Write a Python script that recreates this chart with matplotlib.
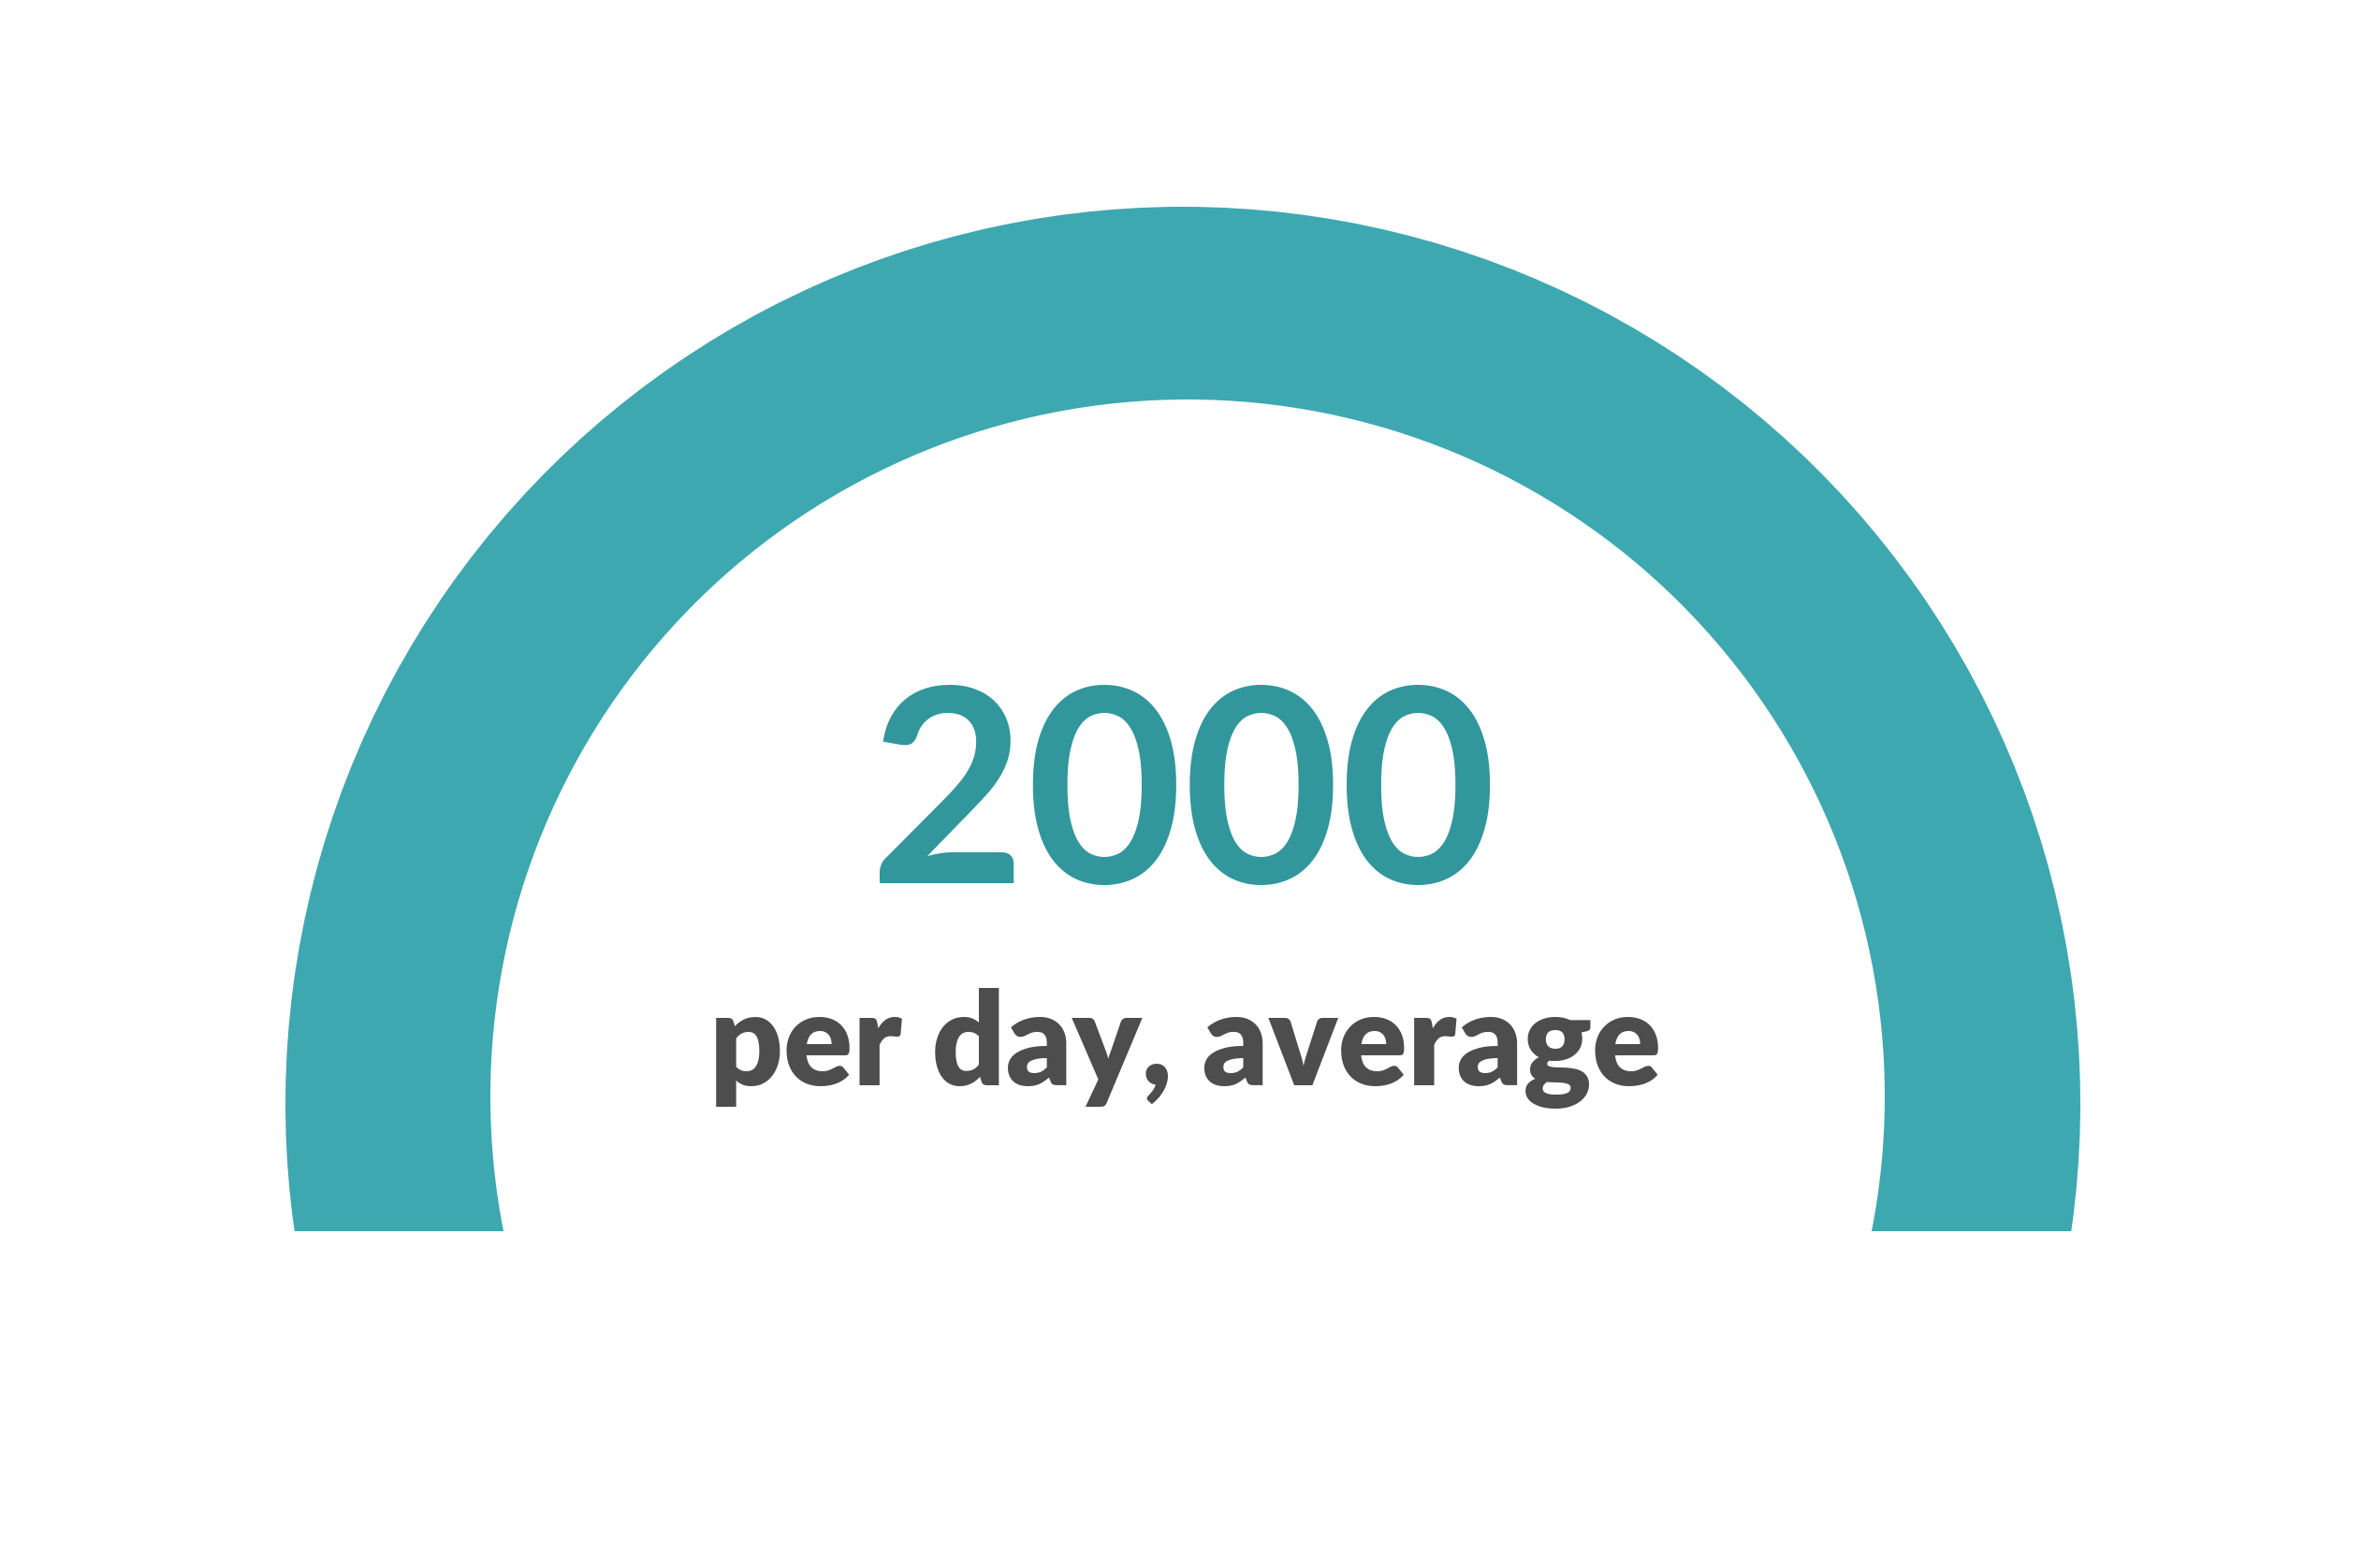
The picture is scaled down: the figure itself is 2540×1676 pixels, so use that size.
#!/usr/bin/env python3

import matplotlib
matplotlib.use("Agg")
import matplotlib.pyplot as plt
from matplotlib.patches import Wedge, Circle, Rectangle

# gauge data
value = 2000
max_value = 2000
label = "per day, average"

ARC_COLOR = "#3ea8b1"
NUM_COLOR = "#31979c"
TEXT_COLOR = "#4d4d4d"


def main():
    W, H = 2540, 1676
    fig = plt.figure(figsize=(W / 100, H / 100), dpi=100)
    ax = fig.add_axes([0, 0, 1, 1])
    ax.set_xlim(0, W)
    ax.set_ylim(0, H)
    ax.set_aspect("equal")
    ax.axis("off")

    # ring geometry (outer and inner edges are not quite concentric in the original)
    outer_c, r_out = (1264, 496), 959
    inner_c, r_in = (1269, 504), 745
    cut_y = 360

    # gauge sweeps from just below the left side over to just below the right
    start, end = 200, -20
    frac = value / max_value
    theta2 = start
    theta1 = start - (start - end) * frac
    ring = Wedge(outer_c, r_out, theta1, theta2,
                 facecolor=ARC_COLOR, edgecolor="none", zorder=1)
    ax.add_patch(ring)
    ring.set_clip_path(Rectangle((0, cut_y), W, H, transform=ax.transData))
    ax.add_patch(Circle(inner_c, r_in, facecolor="white", edgecolor="none", zorder=2))

    ax.text(1264, 732, f"{value}", ha="center", va="baseline",
            fontsize=208, fontweight="bold", family="Lato", color=NUM_COLOR, zorder=3)
    ax.text(1267, 516, label, ha="center", va="baseline",
            fontsize=99, fontweight="heavy", family="Lato", color=TEXT_COLOR, zorder=3)

    fig.savefig("out.png", dpi=100, facecolor="white")


if __name__ == "__main__":
    main()
